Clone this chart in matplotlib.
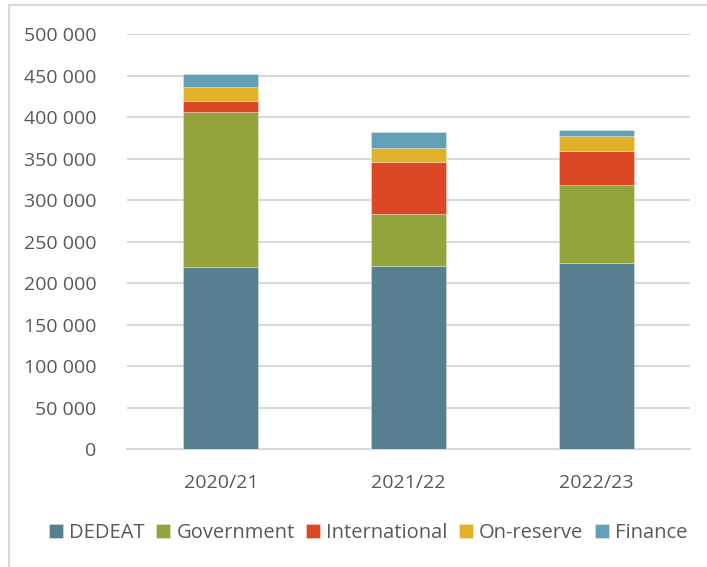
import matplotlib
matplotlib.use("Agg")
import matplotlib.pyplot as plt
from matplotlib.lines import Line2D
import numpy as np

years = ["2020/21", "2021/22", "2022/23"]
series_names = ["DEDEAT", "Government", "International", "On-reserve", "Finance"]
dedeat = [220000, 221000, 225000]
government = [186000, 63000, 93000]
international = [14000, 62000, 41500]
on_reserve = [16000, 16500, 18500]
finance = [16000, 19300, 6400]
colors = ["#577F8F", "#93A43C", "#DC4826", "#E1B128", "#64A0B5"]

yticks = list(range(0, 500001, 50000))
ytick_labels = [f"{v:,}".replace(",", " ") for v in yticks]

plt.rcParams['font.family'] = ['Open Sans', 'DejaVu Sans']
text_color = "#595959"
grid_color = "#D9D9D9"

fig = plt.figure(figsize=(7.07, 5.67), dpi=100)
ax = fig.add_axes([127/707, 1 - 449.3/567, 563/707, (449.3 - 34.3)/567])

x = np.arange(len(years))
bottom = np.zeros(len(years))
for name, vals, c in zip(series_names, [dedeat, government, international, on_reserve, finance], colors):
    ax.bar(x, vals, width=0.4, bottom=bottom, color=c, label=name, zorder=3,
           edgecolor=(1, 1, 1, 0.35), linewidth=0.6)
    bottom += np.array(vals)

ax.set_xlim(-0.5, 2.5)
ax.set_ylim(0, 500000)
ax.set_yticks(yticks)
ax.set_yticklabels(ytick_labels)
ax.set_xticks(x)
ax.set_xticklabels(years)
ax.yaxis.grid(True, color=grid_color, linewidth=1.5, zorder=0)
ax.set_axisbelow(True)
for s in ["top", "right", "left"]:
    ax.spines[s].set_visible(False)
ax.spines["bottom"].set_color(grid_color)
ax.spines["bottom"].set_linewidth(1.5)
ax.tick_params(axis="both", length=0, labelsize=14, labelcolor=text_color)
ax.tick_params(axis="y", pad=22)
ax.tick_params(axis="x", pad=18)

leg = fig.legend(loc="center", bbox_to_anchor=(368/707, 1 - 533/567), ncol=5, frameon=False,
                 fontsize=14.5, handlelength=0.72, handleheight=0.72, handletextpad=0.3,
                 columnspacing=0.55, labelcolor=text_color)

# outer chart border (left and top edges visible)
fig.add_artist(Line2D([9/707, 9/707], [0, 1 - 5/567], transform=fig.transFigure,
                      color=grid_color, linewidth=1.5))
fig.add_artist(Line2D([9/707, 1], [1 - 5/567, 1 - 5/567], transform=fig.transFigure,
                      color=grid_color, linewidth=1.5))

fig.savefig("out.png", dpi=100)
